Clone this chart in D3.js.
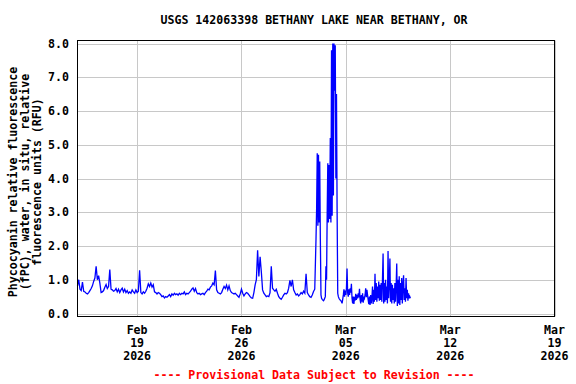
<!DOCTYPE html>
<html>
<head>
<meta charset="utf-8">
<script src="https://cdn.jsdelivr.net/npm/d3@7"></script>
<style>
  html, body { margin: 0; padding: 0; background: #ffffff; }
  svg { display: block; }
  text { font-family: "DejaVu Sans Mono", "Liberation Mono", monospace; font-weight: bold; font-size: 11.6px; fill: #000; }
</style>
</head>
<body>
<svg id="chart" width="576" height="384"></svg>
<script>
// ---------------- DATA ----------------
const title = "USGS 142063398 BETHANY LAKE NEAR BETHANY, OR";
const yLabelLines = ["Phycocyanin relative fluorescence", "(fPC), water, in situ, relative", "fluorescence units (RFU)"];
const footer = "---- Provisional Data Subject to Revision ----";

// x domain and ticks
const xStart = new Date(Date.UTC(2026, 1, 15));
const xEnd = new Date(Date.UTC(2026, 2, 19));
const xTickDates = [new Date(Date.UTC(2026, 1, 19)), new Date(Date.UTC(2026, 1, 26)),
                    new Date(Date.UTC(2026, 2, 5)), new Date(Date.UTC(2026, 2, 12)), new Date(Date.UTC(2026, 2, 19))];
const xTickMonths = ["Feb", "Feb", "Mar", "Mar", "Mar"];
const xTickDays = ["19", "26", "05", "12", "19"];
const xTickYears = ["2026", "2026", "2026", "2026", "2026"];

// y ticks
const yTicks = [0, 1, 2, 3, 4, 5, 6, 7, 8];
const yTickLabels = ["0.0", "1.0", "2.0", "3.0", "4.0", "5.0", "6.0", "7.0", "8.0"];

// series part A: readings every 2 hours, Feb 15 2026 00:00 .. Mar 2 22:00
const startA = new Date(Date.UTC(2026, 1, 15));
const stepHoursA = 2;
const rfuA = [
  0.82, 1.0, 0.72, 0.68, 0.93, 0.66, 0.64, 0.6, 0.58, 0.62,
  0.68, 0.74, 0.82, 0.95, 1.05, 1.4, 1.0, 1.12, 0.9, 0.62,
  0.64, 0.68, 0.78, 0.86, 0.74, 0.8, 1.3, 0.72, 0.7, 0.66,
  0.68, 0.74, 0.64, 0.72, 0.62, 0.7, 0.75, 0.64, 0.72, 0.62,
  0.68, 0.6, 0.64, 0.6, 0.7, 0.64, 0.6, 0.7, 0.62, 0.66,
  1.28, 0.62, 0.58, 0.64, 0.6, 0.66, 0.75, 0.88, 0.8, 0.9,
  0.78, 0.85, 0.64, 0.62, 0.58, 0.62, 0.6, 0.56, 0.5, 0.52,
  0.46, 0.5, 0.48, 0.52, 0.56, 0.5, 0.58, 0.54, 0.6, 0.56,
  0.58, 0.54, 0.6, 0.56, 0.6, 0.58, 0.64, 0.56, 0.6, 0.58,
  0.62, 0.66, 0.72, 0.76, 0.66, 0.74, 0.62, 0.58, 0.6, 0.56,
  0.58, 0.6, 0.56, 0.62, 0.66, 0.72, 0.7, 0.78, 0.82, 0.9,
  0.85, 1.27, 0.7, 0.62, 0.6, 0.58, 0.62, 0.72, 0.8, 0.74,
  0.84, 0.7, 0.82, 0.68, 0.62, 0.6, 0.58, 0.6, 0.56, 0.52,
  0.48, 0.58, 0.72, 0.6, 0.52, 0.58, 0.62, 0.6, 0.55, 0.5,
  0.46, 0.45, 0.62, 0.85, 1.0, 1.87, 1.1, 1.68, 1.23, 0.7,
  0.6, 0.55, 0.5, 0.52, 0.5, 0.62, 1.4, 0.75, 0.7, 0.66,
  0.72, 0.6, 0.5, 0.45, 0.42, 0.48, 0.55, 0.6, 0.58, 0.62,
  0.75, 0.98, 0.8, 1.0, 0.7, 0.62, 0.55, 0.58, 0.52, 0.56,
  0.62, 0.58, 0.66, 0.6, 1.18, 0.62, 0.55, 0.5, 0.48, 0.55,
  0.65, 0.72
];

// series part B: hourly readings, Mar 3 2026 00:00 onward
const startB = new Date(Date.UTC(2026, 2, 3));
const stepHoursB = 1;
const rfuB = [
  2.2, 3.1, 4.75, 2.6, 4.7, 2.7, 4.5, 2.2,
  0.55, 0.45, 0.42, 0.4, 0.38, 0.4, 0.45, 0.5,
  1.4, 1.0, 2.95, 4.45, 2.7, 4.4, 2.8, 5.2,
  2.7, 7.8, 2.9, 8.0, 3.5, 8.0, 6.6, 7.95, 4.0, 6.5, 3.0,
  0.6, 0.5, 0.45, 0.42, 0.4, 0.38,
  0.35, 0.3, 0.42,
  0.55, 0.72, 0.5, 0.68, 0.55, 0.74,
  1.33,
  0.6, 0.5, 0.72, 0.55, 0.75, 0.62, 0.88,
  0.45, 0.3, 0.5, 0.28, 0.45,
  0.42, 0.58, 0.4, 0.55, 0.45, 0.6, 0.48,
  0.73,
  0.42, 0.3, 0.55, 0.35, 0.6, 0.32, 0.5, 0.45,
  0.55, 0.75, 0.48, 0.7, 0.55,
  0.4, 0.28, 0.5, 0.25, 0.55, 0.3, 0.45,
  0.8, 0.28, 0.7, 0.35,
  1.18,
  0.4, 0.9, 0.35, 0.8, 0.45, 0.95, 0.38, 0.85, 0.4, 0.9, 0.35, 1.0,
  1.78,
  0.3, 0.9, 0.35, 1.0, 0.4, 0.8, 0.3,
  1.85,
  0.45, 0.9,
  1.63,
  0.35, 0.9, 0.3, 0.85, 0.4, 0.75, 0.3, 0.9, 0.35, 0.8,
  1.48,
  0.22, 1.0, 0.3, 1.1, 0.25, 0.9, 0.4, 1.05, 0.3, 0.85,
  1.13,
  0.4, 0.75, 0.35, 1.05, 0.45, 0.7, 0.38, 0.6, 0.45, 0.5, 0.45
];

// ---------------- LAYOUT ----------------
const frame = { left: 77.5, right: 554.5, top: 40.5, bottom: 316.5 };
const svg = d3.select("#chart");

const x = d3.scaleUtc().domain([xStart, xEnd]).range([frame.left, frame.right]);
const y = d3.scaleLinear().domain([0, 8]).range([313.5, 43.5]);

const HOUR = 3600 * 1000;
const data = rfuA.map((v, i) => ({ t: new Date(startA.getTime() + i * stepHoursA * HOUR), v: v }))
  .concat(rfuB.map((v, i) => ({ t: new Date(startB.getTime() + i * stepHoursB * HOUR), v: v })));

// gridlines
const grid = svg.append("g");
grid.selectAll("line.h").data(yTicks).enter().append("line")
  .attr("x1", frame.left).attr("x2", frame.right)
  .attr("y1", d => Math.round(y(d)) + 0.5).attr("y2", d => Math.round(y(d)) + 0.5)
  .attr("stroke", "#c8c8c8").attr("stroke-width", 1);
grid.selectAll("line.v").data(xTickDates).enter().append("line")
  .attr("x1", d => Math.round(x(d)) + 0.5).attr("x2", d => Math.round(x(d)) + 0.5)
  .attr("y1", frame.top).attr("y2", frame.bottom)
  .attr("stroke", "#c8c8c8").attr("stroke-width", 1);

// series
const line = d3.line().x(d => x(d.t)).y(d => y(d.v));
svg.append("path").datum(data)
  .attr("d", line)
  .attr("fill", "none")
  .attr("stroke", "#0000ff")
  .attr("stroke-width", 1.3)
  .attr("stroke-linejoin", "miter");

// frame
svg.append("rect")
  .attr("x", frame.left).attr("y", frame.top)
  .attr("width", frame.right - frame.left).attr("height", frame.bottom - frame.top)
  .attr("fill", "none").attr("stroke", "#000").attr("stroke-width", 1);

// y tick labels
svg.append("g").selectAll("text").data(yTicks).enter().append("text")
  .attr("x", 69).attr("y", d => y(d))
  .attr("dy", "0.36em")
  .attr("text-anchor", "end")
  .text((d, i) => yTickLabels[i]);

// x tick labels
const xl = svg.append("g").selectAll("text").data(xTickDates).enter().append("text")
  .attr("text-anchor", "middle");
xl.append("tspan").attr("x", d => x(d)).attr("y", 334).text((d, i) => xTickMonths[i]);
xl.append("tspan").attr("x", d => x(d)).attr("y", 347).text((d, i) => xTickDays[i]);
xl.append("tspan").attr("x", d => x(d)).attr("y", 360).text((d, i) => xTickYears[i]);

// title
svg.append("text").attr("x", 314).attr("y", 24).attr("text-anchor", "middle").text(title);

// y label
const yl = svg.append("text").attr("transform", "translate(0,182) rotate(-90)").attr("text-anchor", "middle");
yLabelLines.forEach((s, i) => {
  yl.append("tspan").attr("x", 0).attr("y", 17 + i * 12).text(s);
});

// footer
svg.append("text").attr("x", 314).attr("y", 379).attr("text-anchor", "middle")
  .style("fill", "#ff0000").text(footer);
</script>
</body>
</html>
